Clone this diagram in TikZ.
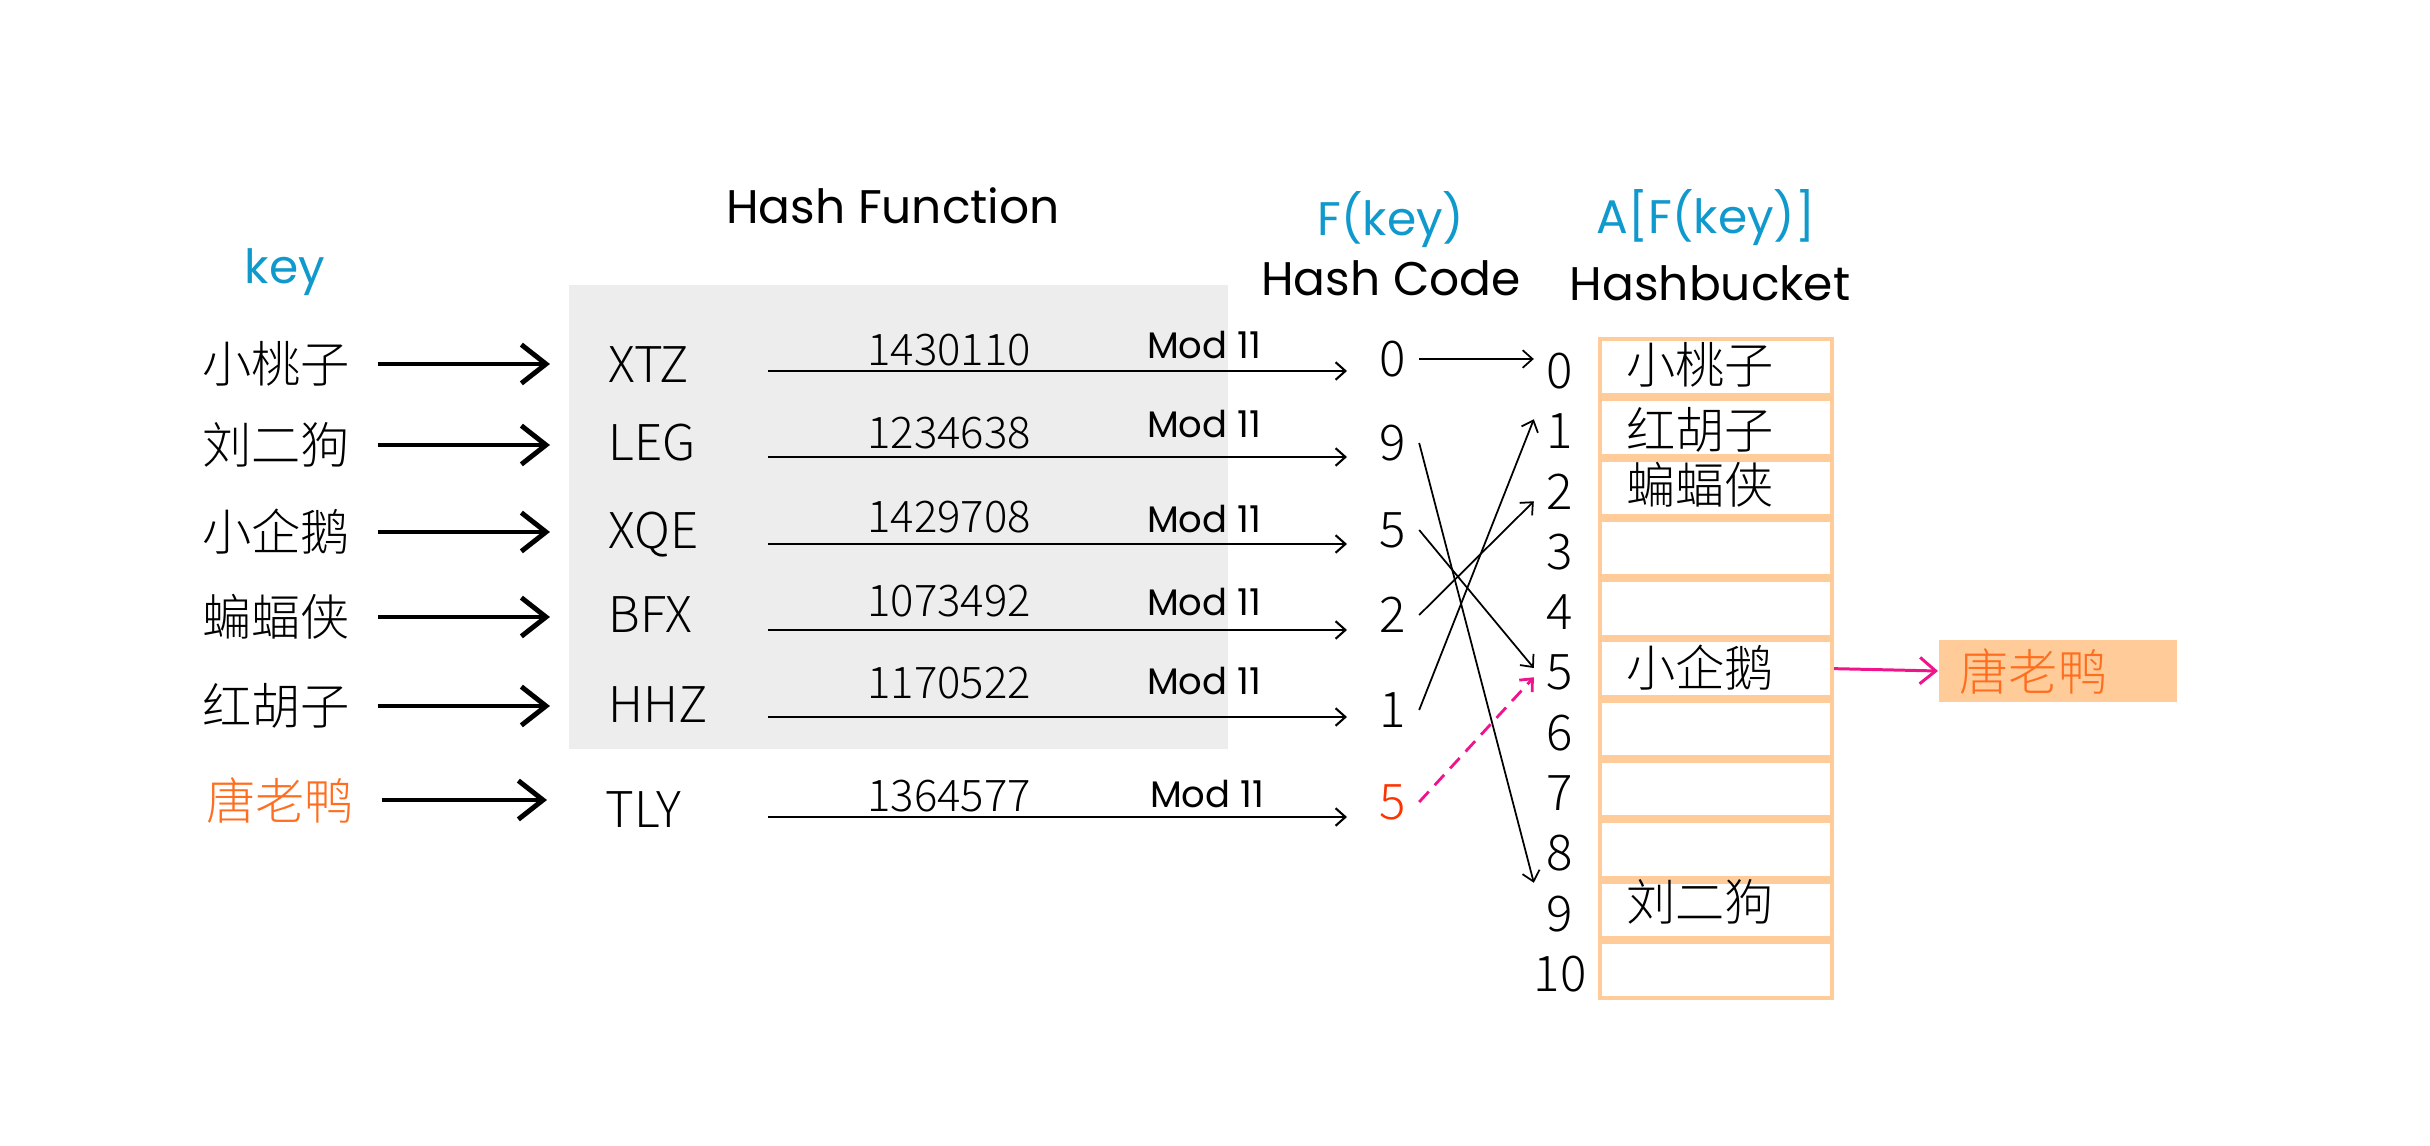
\documentclass[tikz,border=0pt]{standalone}
\usepackage{fontspec}
\setmainfont{Noto Sans CJK SC}[UprightFont={* Light}]
\newfontfamily\headfont{Poppins}
\usetikzlibrary{arrows.meta, calc}
\definecolor{keyblue}{RGB}{16,153,204}
\definecolor{boxgray}{RGB}{237,237,237}
\definecolor{bucketorange}{RGB}{255,204,153}
\definecolor{duckorange}{RGB}{255,110,30}
\definecolor{codered}{RGB}{255,51,0}
\definecolor{linkpink}{RGB}{240,20,140}

\tikzset{
  head/.style={font=\headfont\fontsize{13.4pt}{16pt}\selectfont, inner sep=0pt},
  keytext/.style={font=\fontsize{14pt}{17pt}\selectfont, inner sep=0pt},
  codetext/.style={font=\fontsize{14pt}{17pt}\selectfont, inner sep=0pt, anchor=west},
  numtext/.style={font=\fontsize{12.4pt}{15pt}\selectfont, inner sep=0pt},
  modtext/.style={font=\headfont\fontsize{10.5pt}{13pt}\selectfont, inner sep=0pt},
  digit/.style={font=\fontsize{14pt}{17pt}\selectfont, inner sep=3.5pt},
  cell/.style={draw=bucketorange, line width=1.14pt, minimum width=2.32cm,
    minimum height=0.563cm, inner sep=0pt},
  entry/.style={font=\fontsize{14pt}{17pt}\selectfont, inner sep=0pt},
  duckbox/.style={fill=bucketorange, text=duckorange, anchor=west, align=left,
    font=\fontsize{14pt}{17pt}\selectfont, minimum height=0.61cm,
    text width=1.96cm, inner xsep=0.21cm, inner ysep=0pt},
  feed/.style={-{Straight Barb[length=7pt, width=11pt]}, line width=1.4pt,
    shorten <=0.27cm, shorten >=0.58cm},
  hashline/.style={-{Straight Barb[length=2.8pt, width=5pt]}, line width=0.6pt},
  link/.style={-{Straight Barb[length=2.8pt, width=5pt]}, line width=0.5pt},
  probe/.style={link, draw=linkpink, dash pattern=on 4pt off 2.5pt, line width=0.8pt},
  overflow/.style={-{Straight Barb[length=4.5pt, width=7.5pt]}, draw=linkpink, line width=0.85pt}
}

\begin{document}
\begin{tikzpicture}[x=0.01cm, y=-0.01cm]
  \useasboundingbox (0,0) rectangle (2430,1146);
  \def\ctop{367.15}
  \def\cpitch{60.3}

  % --- Hash function panel ---
  \fill[boxgray] (569,285) rectangle (1228,749);

  % Headings
  \node[head] (hfun) at (893,206) {Hash Function};
  \node[head, text=keyblue] (hkey) at (285,272) {key};
  \node[head, text=keyblue] (hfk) at (1391,220) {F(key)};
  \node[head] (hcode) at (1391,278) {Hash Code};
  \node[head, text=keyblue] (hafk) at (1706,218) {A[F(key)]};
  \node[head] (hbucket) at (1710,283) {Hashbucket};

  % Keys
  \node[keytext] (k0) at (276,364) {小桃子};
  \node[keytext] (k1) at (276,445) {刘二狗};
  \node[keytext] (k2) at (276,532) {小企鹅};
  \node[keytext] (k3) at (276,617) {蝙蝠侠};
  \node[keytext] (k4) at (276,706) {红胡子};
  \node[keytext, text=duckorange] (k5) at (280,800) {唐老鸭};

  % Codes
  \node[codetext] (c0) at (608,365) {XTZ};
  \node[codetext] (c1) at (608,443) {LEG};
  \node[codetext] (c2) at (608,535) {XQE};
  \node[codetext] (c3) at (608,615) {BFX};
  \node[codetext] (c4) at (608,705) {HHZ};
  \node[codetext] (c5) at (605,810) {TLY};

  % Key -> code
  \draw[feed] (k0.east) -- (k0.east -| c0.west);
  \draw[feed] (k1.east) -- (k1.east -| c1.west);
  \draw[feed] (k2.east) -- (k2.east -| c2.west);
  \draw[feed] (k3.east) -- (k3.east -| c3.west);
  \draw[feed] (k4.east) -- (k4.east -| c4.west);
  \draw[feed] (k5.east) -- (k5.east -| c5.west);

  % Hash values and modulo
  \node[numtext] (n0) at (949,350) {1430110};
  \node[numtext] (n1) at (949,433) {1234638};
  \node[numtext] (n2) at (949,517) {1429708};
  \node[numtext] (n3) at (949,601) {1073492};
  \node[numtext] (n4) at (949,683) {1170522};
  \node[numtext] (n5) at (949,796) {1364577};

  \node[modtext] (m0) at (1204,345) {Mod 11};
  \node[modtext] (m1) at (1204,424) {Mod 11};
  \node[modtext] (m2) at (1204,519) {Mod 11};
  \node[modtext] (m3) at (1204,602) {Mod 11};
  \node[modtext] (m4) at (1204,681) {Mod 11};
  \node[modtext] (m5) at (1207,794) {Mod 11};

  \coordinate (a0) at (768,371); \coordinate (z0) at (1347,371);
  \coordinate (a1) at (768,457); \coordinate (z1) at (1347,457);
  \coordinate (a2) at (768,544); \coordinate (z2) at (1347,544);
  \coordinate (a3) at (768,630); \coordinate (z3) at (1347,630);
  \coordinate (a4) at (768,717); \coordinate (z4) at (1347,717);
  \coordinate (a5) at (768,817); \coordinate (z5) at (1347,817);
  \draw[hashline] (a0) -- (z0);
  \draw[hashline] (a1) -- (z1);
  \draw[hashline] (a2) -- (z2);
  \draw[hashline] (a3) -- (z3);
  \draw[hashline] (a4) -- (z4);
  \draw[hashline] (a5) -- (z5);

  % Hash codes
  \node[digit] (h0) at (1393,359) {0};
  \node[digit] (h1) at (1393,443) {9};
  \node[digit] (h2) at (1393,530) {5};
  \node[digit] (h3) at (1393,615) {2};
  \node[digit] (h4) at (1393,710) {1};
  \node[digit, text=codered] (h5) at (1393,802) {5};

  % --- Hash buckets ---
  \foreach \i in {0,...,10} {
    \node[cell] (b\i) at (1716, {\ctop+\i*\cpitch}) {};
    \node[digit] (i\i) at (1560, {\ctop+4+\i*\cpitch}) {\i};
  }

  \node[entry] (e0) at ($(b0.center)+(-16,-2)$) {小桃子};
  \node[entry] (e1) at ($(b1.center)+(-16,2)$) {红胡子};
  \node[entry] (e2) at ($(b2.center)+(-16,-3)$) {蝙蝠侠};
  \node[entry] (e5) at ($(b5.center)+(-16,-1)$) {小企鹅};
  \node[entry] (e9) at ($(b9.center)+(-16,-8)$) {刘二狗};

  % Code -> bucket
  \draw[link] (h0.east) -- (h0.east -| i0.west);
  \draw[link] (h1.east) -- (i9.north west);
  \draw[link] (h2.east) -- (i5.170);
  \draw[link] (h3.east) -- (i2.200);
  \draw[link] (h4.east) -- (i1.155);
  \draw[probe] (h5.east) -- (i5.190);

  % Collision
  \node[duckbox] (d0) at (1938,671) {唐老鸭};
  \draw[overflow] (b5.east) -- (d0.west);
\end{tikzpicture}
\end{document}
